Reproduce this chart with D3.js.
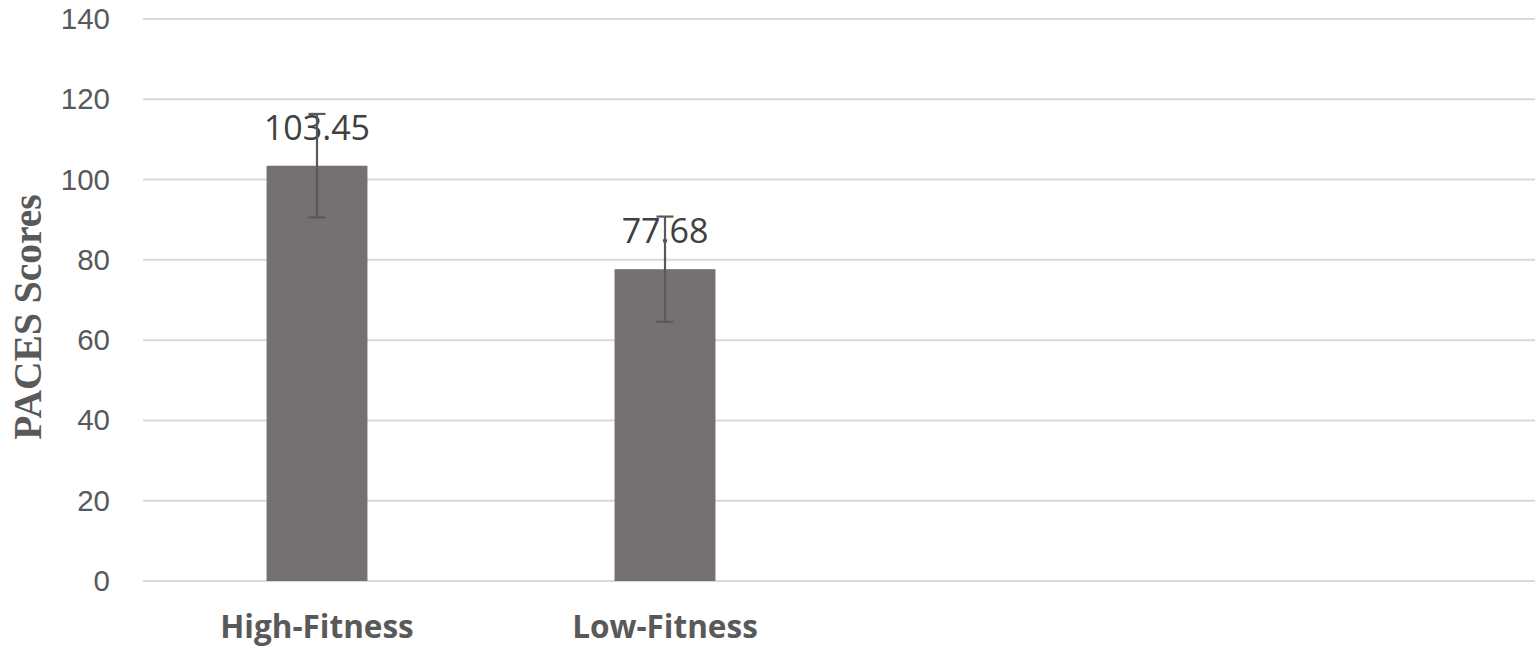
<!DOCTYPE html>
<html>
<head>
<meta charset="utf-8">
<script src="https://cdn.jsdelivr.net/npm/d3@7"></script>
<style>
  body { margin: 0; background: #fff; }
  svg { display: block; }
</style>
</head>
<body>
<svg width="1535" height="656"></svg>
<script>
// data
const categories = ['High-Fitness', 'Low-Fitness'];
const means = [103.45, 77.68];
const errors = [12.9, 13.1];
const yTicks = [0, 20, 40, 60, 80, 100, 120, 140];
const slotCount = 4; // excel axis leaves two empty slots on the right

(function (d3) {
    const svg = d3.select('svg');
    const width = +svg.attr('width');

    const margin = { left: 143, top: 19, bottom: 581 };

    const x = d3.scaleBand()
        .domain(d3.range(slotCount))
        .range([margin.left, width])
        .paddingInner(0.71)
        .paddingOuter(0.355);

    const y = d3.scaleLinear()
        .domain([0, 140])
        .range([margin.bottom, margin.top]);

    // gridlines
    svg.append('g')
        .selectAll('line')
        .data(yTicks)
        .join('line')
          .attr('x1', margin.left)
          .attr('x2', width)
          .attr('y1', d => y(d))
          .attr('y2', d => y(d))
          .attr('stroke', '#d9d9d9')
          .attr('stroke-width', 2);

    // y axis labels
    const yAxis = svg.append('g')
        .attr('transform', `translate(110, 0)`)
        .call(d3.axisLeft(y).tickValues(yTicks).tickSize(0).tickPadding(0));
    yAxis.select('.domain').remove();
    yAxis.selectAll('text')
        .attr('font-family', 'Liberation Sans, Arial, sans-serif')
        .attr('font-size', 29.5)
        .attr('fill', '#595959');

    // y axis title
    svg.append('text')
        .attr('transform', `translate(41, ${(margin.top + margin.bottom) / 2 + 17}) rotate(-90)`)
        .attr('text-anchor', 'middle')
        .attr('font-family', 'Liberation Serif, Times New Roman, serif')
        .attr('font-weight', 'bold')
        .attr('font-size', 39.5)
        .attr('fill', '#595959')
        .text('PACES Scores');

    // bars
    svg.append('g')
        .selectAll('rect')
        .data(means)
        .join('rect')
          .attr('x', (d, i) => x(i))
          .attr('y', d => y(d))
          .attr('width', x.bandwidth())
          .attr('height', d => y(0) - y(d))
          .attr('fill', '#767171');

    // data labels
    svg.append('g')
        .selectAll('text')
        .data(means)
        .join('text')
          .attr('x', (d, i) => x(i) + x.bandwidth() / 2)
          .attr('y', d => y(d) - 26)
          .attr('text-anchor', 'middle')
          .attr('font-family', 'Open Sans, sans-serif')
          .attr('font-size', 34)
          .attr('fill', '#404040')
          .text(d => d.toFixed(2));

    // error bars
    const capHalf = 8.5;
    const errG = svg.append('g')
        .attr('stroke', '#595959')
        .attr('stroke-width', 2.2);
    means.forEach((m, i) => {
        const cx = x(i) + x.bandwidth() / 2;
        const top = y(m + errors[i]);
        const bot = y(m - errors[i]);
        errG.append('line')
            .attr('x1', cx).attr('x2', cx)
            .attr('y1', top).attr('y2', bot);
        errG.append('line')
            .attr('x1', cx - capHalf).attr('x2', cx + capHalf)
            .attr('y1', top).attr('y2', top);
        errG.append('line')
            .attr('x1', cx - capHalf).attr('x2', cx + capHalf)
            .attr('y1', bot).attr('y2', bot);
    });

    // category labels
    svg.append('g')
        .selectAll('text')
        .data(categories)
        .join('text')
          .attr('x', (d, i) => x(i) + x.bandwidth() / 2)
          .attr('y', 638)
          .attr('text-anchor', 'middle')
          .attr('font-family', 'Open Sans, sans-serif')
          .attr('font-weight', 'bold')
          .attr('font-size', 31.5)
          .attr('fill', '#595959')
          .text(d => d);
}(d3));
</script>
</body>
</html>
